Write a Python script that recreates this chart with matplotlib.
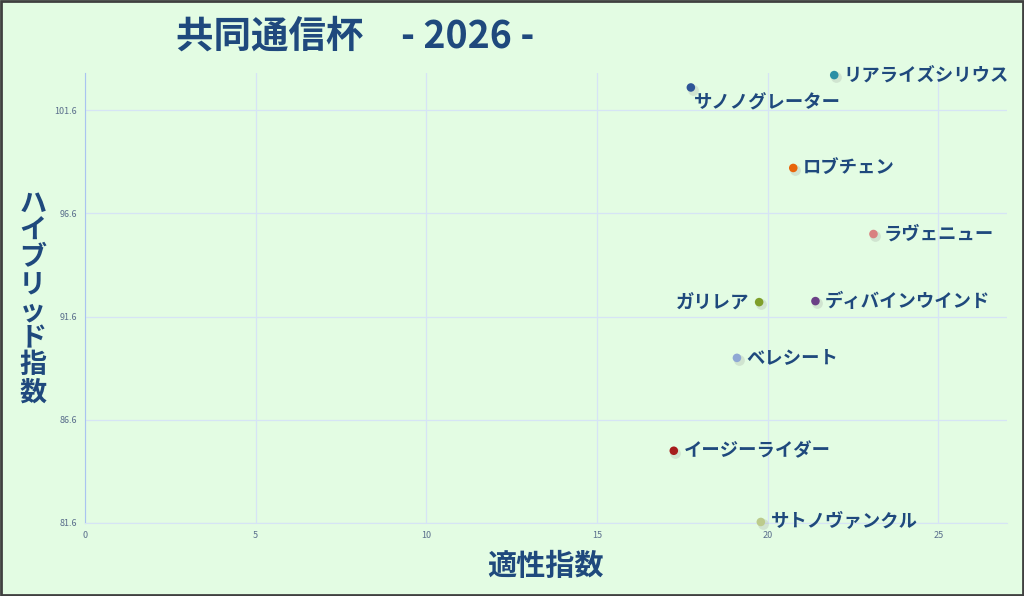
import matplotlib.pyplot as plt
from matplotlib.patches import Rectangle

plt.rcParams['font.family'] = ['Noto Sans CJK JP', 'DejaVu Sans']

# horse data
names = ['サノノグレーター', 'リアライズシリウス', 'ロブチェン', 'ラヴェニュー',
         'ディバインウインド', 'ガリレア', 'ベレシート', 'イージーライダー', 'サトノヴァンクル']
aptitude = [17.75, 21.95, 20.75, 23.1, 21.4, 19.75, 19.1, 17.25, 19.8]
hybrid = [102.7, 103.3, 98.8, 95.6, 92.35, 92.3, 89.6, 85.1, 81.65]
colors = ['#2E5597', '#2A8FA5', '#E8650A', '#D98080', '#6B3F86',
          '#7F9F2A', '#8FA8D4', '#A61C1C', '#BCCB8C']
# label side: r = right, l = left, b = below right
sides = ['b', 'r', 'r', 'r', 'r', 'l', 'r', 'r', 'r']

xticks = [0, 5, 10, 15, 20, 25]
yticks = [81.6, 86.6, 91.6, 96.6, 101.6]

bg = '#E3FCE3'
navy = '#1F497D'

fig = plt.figure(figsize=(10.24, 5.96), dpi=100, facecolor=bg)
ax = fig.add_axes([0.083, 0.1225, 0.9, 0.755], facecolor=bg)

# soft shadow then point
ax.scatter([a + 0.05 for a in aptitude], [h - 0.1 for h in hybrid], s=60,
           color='#888888', alpha=0.2, linewidths=0, zorder=3, clip_on=False)
ax.scatter(aptitude, hybrid, s=38, c=colors, linewidths=0, zorder=4, clip_on=False)

for n, a, h, c, sd in zip(names, aptitude, hybrid, colors, sides):
    if sd == 'r':
        ax.annotate(n, (a, h), xytext=(7, 0), textcoords='offset points',
                    ha='left', va='center', fontsize=13.2, fontweight='bold',
                    color=navy, zorder=5)
    elif sd == 'l':
        ax.annotate(n, (a, h), xytext=(-7, 0), textcoords='offset points',
                    ha='right', va='center', fontsize=13.2, fontweight='bold',
                    color=navy, zorder=5)
    else:
        ax.annotate(n, (a, h), xytext=(2, -4), textcoords='offset points',
                    ha='left', va='top', fontsize=13.2, fontweight='bold',
                    color=navy, zorder=5)

ax.set_xlim(0, 27)
ax.set_ylim(81.6, 103.4)
ax.set_xticks(xticks)
ax.set_yticks(yticks)
ax.set_yticklabels([f'{v:.1f}' for v in yticks])
ax.tick_params(labelsize=6.5, colors='#5A6E8C', length=0, pad=6)
ax.grid(True, color='#D6E4F5', linewidth=0.9)
ax.set_axisbelow(True)
for s in ['top', 'right']:
    ax.spines[s].set_visible(False)
ax.spines['left'].set_color('#A9C4F0')
ax.spines['bottom'].set_color('#D6E4F5')

ax.set_xlabel('適性指数', fontsize=21, fontweight='bold', color=navy, labelpad=8)
fig.text(0.032, 0.5, '\n'.join('ハイブリッド指数'), fontsize=19.5, fontweight='bold',
         color=navy, ha='center', va='center', linespacing=0.95)

fig.text(0.172, 0.94, '共同通信杯　- 2026 -', fontsize=27, fontweight='bold',
         color=navy, ha='left', va='center')

# frame around the image
fig.patches.append(Rectangle((0.001, 0.002), 0.998, 0.996, transform=fig.transFigure,
                             fill=False, edgecolor='#404040', linewidth=2))

fig.savefig('out.png', dpi=100, facecolor=bg)
